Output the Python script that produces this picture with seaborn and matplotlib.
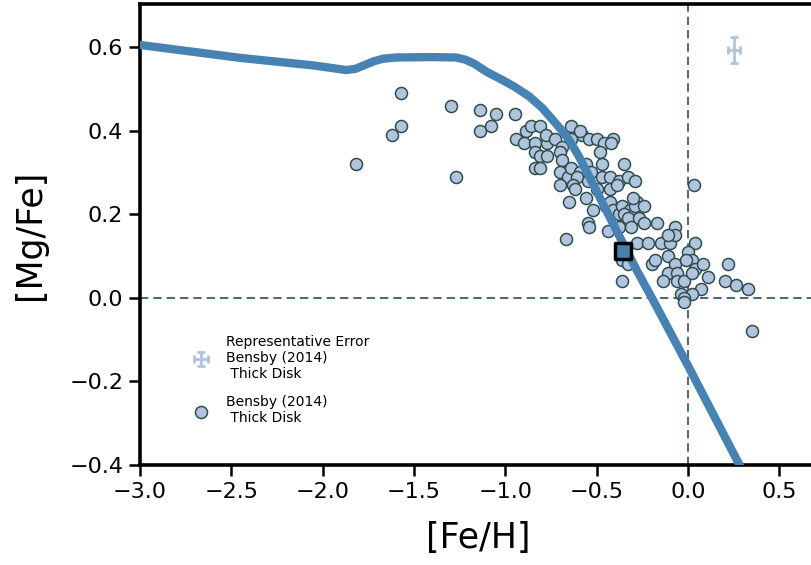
import matplotlib
matplotlib.use("Agg")
import matplotlib.pyplot as plt
import seaborn as sns
import pandas as pd

# Model track
track_feh = [-3.0, -2.45, -2.05, -1.92, -1.87, -1.82, -1.77, -1.72, -1.67, -1.60,
             -1.40, -1.27, -1.22, -1.17, -1.10, -1.02, -0.95, -0.87, -0.80, -0.74,
             -0.69, -0.65, -0.60, -0.55, -0.47, -0.37, -0.28, -0.19, 0.0, 0.285, 0.34]
track_mgfe = [0.605, 0.574, 0.556, 0.548, 0.545, 0.548, 0.557, 0.566, 0.572, 0.575,
              0.576, 0.575, 0.570, 0.560, 0.540, 0.522, 0.505, 0.482, 0.455, 0.425,
              0.400, 0.377, 0.340, 0.298, 0.228, 0.142, 0.065, -0.007, -0.163, -0.403, -0.45]

# Bensby (2014) thick disk stars
bensby_feh = [-1.82, -1.57, -1.57, -1.62, -1.30, -1.27, -1.14, -1.05, -1.14, -1.08,
              -0.95, -0.94, -0.89, -0.86, -0.81, -0.90, -0.84, -0.77, -0.78, -0.73,
              -0.69, -0.84, -0.81, -0.77, -0.70, -0.69, -0.84, -0.81, -0.64, -0.58,
              -0.54, -0.50, -0.46, -0.41, -0.42, -0.64, -0.48, -0.47, -0.35, -0.70,
              -0.66, -0.64, -0.56, -0.59, -0.61, -0.53, -0.47, -0.43, -0.38, -0.33,
              -0.70, -0.63, -0.55, -0.29, -0.62, -0.50, -0.43, -0.39, -0.65, -0.56,
              -0.52, -0.55, -0.54, -0.67, -0.45, -0.43, -0.41, -0.38, -0.36, -0.32,
              -0.28, -0.29, -0.30, -0.35, -0.33, -0.27, -0.24, -0.17, -0.38, -0.31,
              -0.28, -0.22, -0.15, -0.10, -0.07, -0.07, -0.11, -0.36, -0.33, -0.36,
              -0.20, -0.18, -0.11, -0.07, -0.11, -0.06, -0.14, -0.06, -0.02, -0.04,
              0.04, 0.00, 0.02, 0.04, 0.02, 0.03, 0.08, 0.11, 0.22, 0.20,
              0.26, 0.33, 0.35, 0.07, 0.02, -0.02, -0.02, -0.24, -0.44, -0.01,
              -0.59]
bensby_mgfe = [0.32, 0.49, 0.41, 0.39, 0.46, 0.29, 0.45, 0.44, 0.40, 0.41,
               0.44, 0.38, 0.40, 0.41, 0.41, 0.37, 0.37, 0.37, 0.39, 0.38,
               0.36, 0.35, 0.34, 0.34, 0.35, 0.33, 0.31, 0.31, 0.41, 0.39,
               0.38, 0.38, 0.37, 0.38, 0.37, 0.38, 0.35, 0.32, 0.32, 0.30,
               0.29, 0.31, 0.32, 0.30, 0.29, 0.30, 0.29, 0.29, 0.28, 0.29,
               0.27, 0.27, 0.28, 0.28, 0.26, 0.26, 0.26, 0.27, 0.23, 0.24,
               0.21, 0.18, 0.17, 0.14, 0.22, 0.23, 0.21, 0.20, 0.22, 0.21,
               0.23, 0.22, 0.24, 0.20, 0.19, 0.19, 0.18, 0.18, 0.17, 0.17,
               0.13, 0.13, 0.13, 0.13, 0.17, 0.15, 0.15, 0.09, 0.08, 0.04,
               0.08, 0.09, 0.10, 0.08, 0.06, 0.06, 0.04, 0.04, 0.04, 0.01,
               0.13, 0.11, 0.09, 0.07, 0.06, 0.27, 0.08, 0.05, 0.08, 0.04,
               0.03, 0.02, -0.08, 0.02, 0.01, 0.00, -0.01, 0.22, 0.16, 0.09,
               0.40]

# Highlighted object
star_feh = [-0.356]
star_mgfe = [0.113]

# Representative error
err_feh = [0.252]
err_mgfe = [0.593]
err_x = [0.033]
err_y = [0.03]

sns.set_style("ticks")
plt.rcParams['font.family'] = ['DejaVu Sans']
plt.rcParams['text.color'] = 'black'
plt.rcParams['axes.labelcolor'] = 'black'
plt.rcParams['xtick.color'] = 'black'
plt.rcParams['ytick.color'] = 'black'

fig = plt.figure(figsize=(8.12, 5.65), dpi=100)
ax = fig.add_axes([140 / 812, 1 - 465 / 565, 676 / 812, 461 / 565])

ax.axhline(0, color="darkslategray", ls=(0, (5, 3)), lw=1.2, zorder=1)
ax.axvline(0, color="darkslategray", ls=(0, (5, 3)), lw=1.2, zorder=1)

track = pd.DataFrame({"feh": track_feh, "mgfe": track_mgfe})
sns.lineplot(data=track, x="feh", y="mgfe", ax=ax, color="steelblue", lw=6,
             sort=False, legend=False, zorder=3)

stars = pd.DataFrame({"feh": bensby_feh, "mgfe": bensby_mgfe})
sns.scatterplot(data=stars, x="feh", y="mgfe", ax=ax, color="lightsteelblue",
                edgecolor="darkslategray", linewidth=1.1, s=75, zorder=2,
                label="Bensby (2014)\n Thick Disk")

ax.errorbar(err_feh, err_mgfe, xerr=err_x, yerr=err_y, fmt="none",
            ecolor="lightsteelblue", elinewidth=2, capsize=3, capthick=2,
            label="Representative Error\nBensby (2014)\n Thick Disk", zorder=4)

sns.scatterplot(x=star_feh, y=star_mgfe, ax=ax, marker="s", s=140,
                color="steelblue", edgecolor="black", linewidth=2.5, zorder=5,
                legend=False)

ax.set_xlim(-3.0, 0.7)
ax.set_ylim(-0.4, 0.703)
ax.set_xticks([-3.0, -2.5, -2.0, -1.5, -1.0, -0.5, 0.0, 0.5])
ax.set_yticks([-0.4, -0.2, 0.0, 0.2, 0.4, 0.6])
ax.set_xticklabels(["\u22123.0", "\u22122.5", "\u22122.0", "\u22121.5", "\u22121.0",
                    "\u22120.5", "0.0", "0.5"])
ax.set_yticklabels(["\u22120.4", "\u22120.2", "0.0", "0.2", "0.4", "0.6"])
ax.tick_params(axis="both", labelsize=16, length=8, width=1.8, direction="out",
               top=False, right=False, colors="black", pad=4)
for sp in ax.spines.values():
    sp.set_linewidth(2.6)
    sp.set_color("black")
ax.set_xlabel("[Fe/H]", fontsize=25, labelpad=14)
ax.set_ylabel("[Mg/Fe]", fontsize=25, labelpad=16)

handles, labels = ax.get_legend_handles_labels()
order = [labels.index("Representative Error\nBensby (2014)\n Thick Disk"),
         labels.index("Bensby (2014)\n Thick Disk")]
ax.legend([handles[i] for i in order], [labels[i] for i in order],
          loc="lower left", bbox_to_anchor=(0.06, 0.06), frameon=False,
          fontsize=10, handletextpad=1.2, labelspacing=0.95, handlelength=1.2)

fig.savefig("out.png", dpi=100)
